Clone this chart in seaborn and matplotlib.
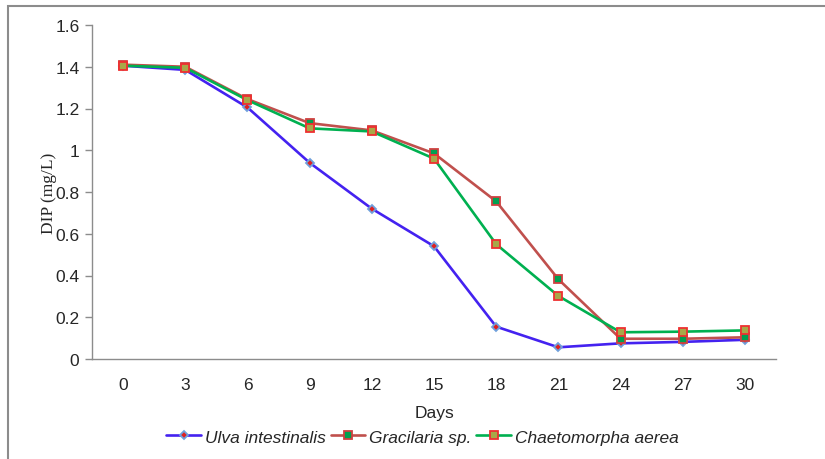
import matplotlib
matplotlib.use("Agg")
import matplotlib.pyplot as plt
import seaborn as sns
import pandas as pd
from matplotlib.patches import Rectangle

days = [0, 3, 6, 9, 12, 15, 18, 21, 24, 27, 30]
ulva = [1.405, 1.385, 1.205, 0.94, 0.72, 0.54, 0.155, 0.056, 0.075, 0.082, 0.092]
gracilaria = [1.41, 1.40, 1.245, 1.13, 1.095, 0.985, 0.755, 0.382, 0.097, 0.097, 0.104]
chaeto = [1.405, 1.395, 1.24, 1.105, 1.09, 0.96, 0.55, 0.302, 0.128, 0.131, 0.137]
series_names = ["Ulva intestinalis", "Gracilaria sp.", "Chaetomorpha aerea"]
yticks = [0, 0.2, 0.4, 0.6, 0.8, 1, 1.2, 1.4, 1.6]
ytick_labels = ["0", "0.2", "0.4", "0.6", "0.8", "1", "1.2", "1.4", "1.6"]

df = pd.DataFrame({
    "Days": days * 3,
    "DIP": ulva + gracilaria + chaeto,
    "Species": [series_names[0]] * len(days) + [series_names[1]] * len(days) + [series_names[2]] * len(days),
})

sns.set_style("white")
plt.rcParams["font.family"] = ["Liberation Sans", "DejaVu Sans"]

fig = plt.figure(figsize=(8.25, 4.6), dpi=100)
ax = fig.add_axes([92 / 825, 1 - 360 / 460, (776 - 92) / 825, (360 - 26) / 460])

# outer border
fig.patches.append(Rectangle((8 / 825, -0.05), 1.0, 1 - 7 / 460 + 0.05, transform=fig.transFigure,
                             fill=False, edgecolor="#8c8c8c", linewidth=1.5, zorder=0))

line_colors = {series_names[0]: "#4422F0", series_names[1]: "#C0504D", series_names[2]: "#00B050"}
styles = {
    series_names[0]: dict(marker="D", markersize=4.5, markerfacecolor="#E02020", markeredgecolor="#6FA0DC", markeredgewidth=1.3),
    series_names[1]: dict(marker="s", markersize=5.5, markerfacecolor="#00A050", markeredgecolor="#D04040", markeredgewidth=1.3),
    series_names[2]: dict(marker="s", markersize=5.5, markerfacecolor="#A8A848", markeredgecolor="#EE3030", markeredgewidth=1.3),
}

for name in series_names:
    sub = df[df["Species"] == name]
    sns.lineplot(data=sub, x="Days", y="DIP", ax=ax, color=line_colors[name], linewidth=1.9,
                 label=name, **styles[name])

ax.set_xlim(-1.5, 31.5)
ax.set_ylim(0, 1.6)
ax.set_xticks(days)
ax.set_xticklabels([str(d) for d in days], fontsize=12.5)
ax.set_xticks([d - 1.5 for d in days] + [31.5], minor=True)
ax.tick_params(axis="x", which="major", length=0, pad=13)
ax.tick_params(axis="x", which="minor", length=6, color="#8c8c8c", width=1, direction="out")
ax.set_yticks(yticks)
ax.set_yticklabels(ytick_labels, fontsize=12.5)
ax.tick_params(axis="y", which="major", length=5, color="#8c8c8c", width=1, direction="out", left=True, pad=4)

for s in ["top", "right"]:
    ax.spines[s].set_visible(False)
for s in ["left", "bottom"]:
    ax.spines[s].set_color("#8c8c8c")
    ax.spines[s].set_linewidth(1)

ax.set_xlabel("Days", fontsize=12.5, labelpad=9)
ax.set_ylabel("DIP (mg/L)", fontsize=12.5, family=["Liberation Serif", "DejaVu Serif"], labelpad=-1)

leg = ax.legend(loc="upper center", bbox_to_anchor=(0.483, -0.19), ncol=3, frameon=False,
                prop={"style": "italic", "size": 12.5}, handlelength=2.0, columnspacing=0.3,
                handletextpad=0.2, borderaxespad=0)

fig.savefig("out.png", dpi=100)
